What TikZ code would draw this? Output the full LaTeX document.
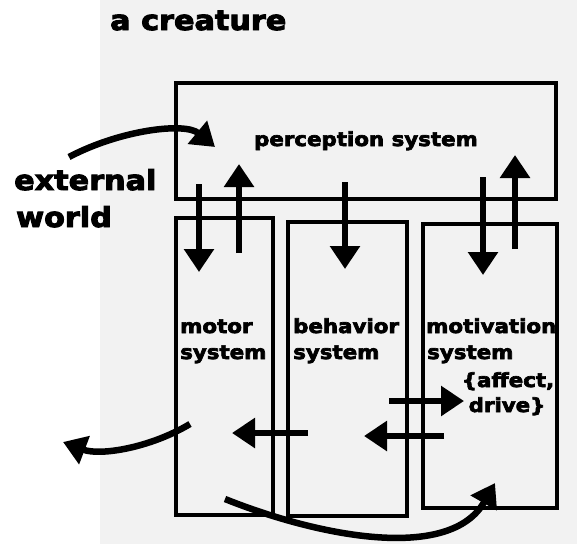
\documentclass[tikz,border=0pt]{standalone}
\usepackage{fontspec}
\usetikzlibrary{arrows.meta}
\newfontfamily\hf{DejaVu Sans}[FakeStretch=1.1,FakeBold=3.5]
\definecolor{bggray}{HTML}{F2F2F2}
\tikzset{
  box/.style={draw=black, line width=3.2pt, inner sep=0pt},
  arr/.style={line width=6.5pt, -{Triangle[length=23pt,width=29pt]}},
  bigtxt/.style={inner sep=0pt, font=\hf\bfseries\fontsize{27.5}{32}\selectfont},
  smalltxt/.style={inner sep=0pt, font=\hf\bfseries\fontsize{19.4}{24}\selectfont},
}
\begin{document}
\begin{tikzpicture}[x=1pt,y=-1pt]
\useasboundingbox (0,0) rectangle (577,546);
\fill[bggray] (100,0) rectangle (577,544);

% boxes
\node[box, minimum width=380pt, minimum height=116pt] (perc) at (366,141) {};
\node[box, minimum width=97pt, minimum height=297pt] (motor) at (224.5,366.5) {};
\node[box, minimum width=119pt, minimum height=294pt] (behav) at (347.5,369) {};
\node[box, minimum width=134pt, minimum height=284pt] (motiv) at (490,366) {};

% labels
\node[bigtxt, anchor=base west] (title) at (110,30) {a creature};
\node[bigtxt, anchor=base west] (ext1) at (14,190) {external};
\node[bigtxt, anchor=base west] (ext2) at (16,227) {world};
\node[smalltxt, anchor=base] (perclbl) at (366,146) {perception system};
\node[smalltxt, anchor=base west] (mot1) at (180,333) {motor};
\node[smalltxt, anchor=base west] (mot2) at (180,359) {system};
\node[smalltxt, anchor=base west] (beh1) at (293,333) {behavior};
\node[smalltxt, anchor=base west] (beh2) at (293,359) {system};
\node[smalltxt, anchor=base west] (mtv1) at (426,333) {motivation};
\node[smalltxt, anchor=base west] (mtv2) at (427,359) {system};
\node[smalltxt, anchor=base] (mtv3) at (508,387) {\{affect,};
\node[smalltxt, anchor=base] (mtv4) at (507,412) {drive\}};

% arrow end points
\coordinate (pmA) at (199,184);  \coordinate (pmB) at (199,272);
\coordinate (mpA) at (239,253);  \coordinate (mpB) at (239,164);
\coordinate (pbA) at (345,182);  \coordinate (pbB) at (345,269);
\coordinate (pvA) at (483,177);  \coordinate (pvB) at (483,275);
\coordinate (vpA) at (515,249);  \coordinate (vpB) at (515,155);
\coordinate (bvA) at (389,401);  \coordinate (bvB) at (464,401);
\coordinate (vbA) at (444,436);  \coordinate (vbB) at (364,436);
\coordinate (bmA) at (308,433);  \coordinate (bmB) at (232,433);
\coordinate (ewA) at (69,157);   \coordinate (ewB) at (215,147);
\coordinate (moA) at (190,424);  \coordinate (moB) at (63,442);
\coordinate (mvA) at (225,499);  \coordinate (mvB) at (495,483);

% arrows
\draw[arr] (pmA) -- (pmB);
\draw[arr] (mpA) -- (mpB);
\draw[arr] (pbA) -- (pbB);
\draw[arr] (pvA) -- (pvB);
\draw[arr] (vpA) -- (vpB);
\draw[arr] (bvA) -- (bvB);
\draw[arr] (vbA) -- (vbB);
\draw[arr] (bmA) -- (bmB);
\draw[arr] (ewA) .. controls (120,130) and (185,122) .. (ewB);
\draw[arr] (moA) .. controls (150,448) and (100,456) .. (moB);
\draw[arr] (mvA) .. controls (320,537) and (450,562) .. (mvB);
\end{tikzpicture}
\end{document}
